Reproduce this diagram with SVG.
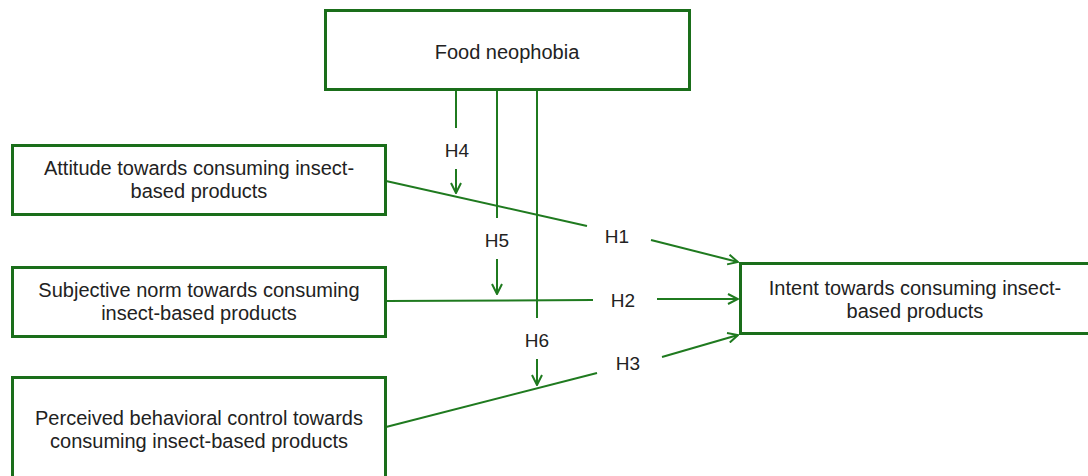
<svg xmlns="http://www.w3.org/2000/svg" width="1088" height="476" viewBox="0 0 1088 476">
<style>
.box{fill:#fff;stroke:#1a6e1a;stroke-width:3}
.t{font-family:"Liberation Sans",Arial,sans-serif;font-size:20px;fill:#222;text-anchor:middle}
.h{font-size:19px}
.c{stroke:#1f7a1f;stroke-width:2;fill:none}
</style>
<defs>
<marker id="ah" viewBox="0 0 12 12" refX="11" refY="6" markerWidth="12" markerHeight="12" markerUnits="userSpaceOnUse" orient="auto">
<path d="M1,1 L11,6 L1,11" fill="none" stroke="#1f7a1f" stroke-width="2"/>
</marker>
</defs>
<rect width="1088" height="476" fill="#fff"/>
<g id="connectors">
<line class="c" x1="456" y1="91" x2="456" y2="128"/>
<line class="c" x1="456" y1="169" x2="456" y2="193" marker-end="url(#ah)"/>
<line class="c" x1="497" y1="91" x2="497" y2="218"/>
<line class="c" x1="497" y1="259" x2="497" y2="294" marker-end="url(#ah)"/>
<line class="c" x1="537" y1="91" x2="537" y2="318"/>
<line class="c" x1="537" y1="359" x2="537" y2="385" marker-end="url(#ah)"/>
<line class="c" x1="386" y1="181" x2="587" y2="226"/>
<line class="c" x1="651" y1="240" x2="738" y2="262" marker-end="url(#ah)"/>
<line class="c" x1="386" y1="301" x2="593" y2="300"/>
<line class="c" x1="657" y1="299" x2="738" y2="299" marker-end="url(#ah)"/>
<line class="c" x1="386" y1="427" x2="597" y2="373"/>
<line class="c" x1="662" y1="357" x2="738" y2="335" marker-end="url(#ah)"/>
<text class="t h" x="457" y="157">H4</text>
<text class="t h" x="497" y="247">H5</text>
<text class="t h" x="537" y="347">H6</text>
<text class="t h" x="617" y="243">H1</text>
<text class="t h" x="623" y="307">H2</text>
<text class="t h" x="628" y="370">H3</text>
</g>
<g id="food">
<rect class="box" x="325.5" y="10.5" width="364" height="79"/>
<text class="t" x="507" y="59">Food neophobia</text>
</g>
<g id="attitude">
<rect class="box" x="12.5" y="145.5" width="373" height="69"/>
<text class="t" x="199" y="175">Attitude towards consuming insect-</text>
<text class="t" x="199" y="198">based products</text>
</g>
<g id="norm">
<rect class="box" x="12.5" y="267.5" width="373" height="69"/>
<text class="t" x="199" y="297">Subjective norm towards consuming</text>
<text class="t" x="199" y="320">insect-based products</text>
</g>
<g id="pbc">
<rect class="box" x="12.5" y="377.5" width="373" height="110"/>
<text class="t" x="199" y="425">Perceived behavioral control towards</text>
<text class="t" x="199" y="448">consuming insect-based products</text>
</g>
<g id="intent">
<rect class="box" x="740.5" y="263.5" width="360" height="70"/>
<text class="t" x="915" y="295">Intent towards consuming insect-</text>
<text class="t" x="915" y="318">based products</text>
</g>
</svg>
